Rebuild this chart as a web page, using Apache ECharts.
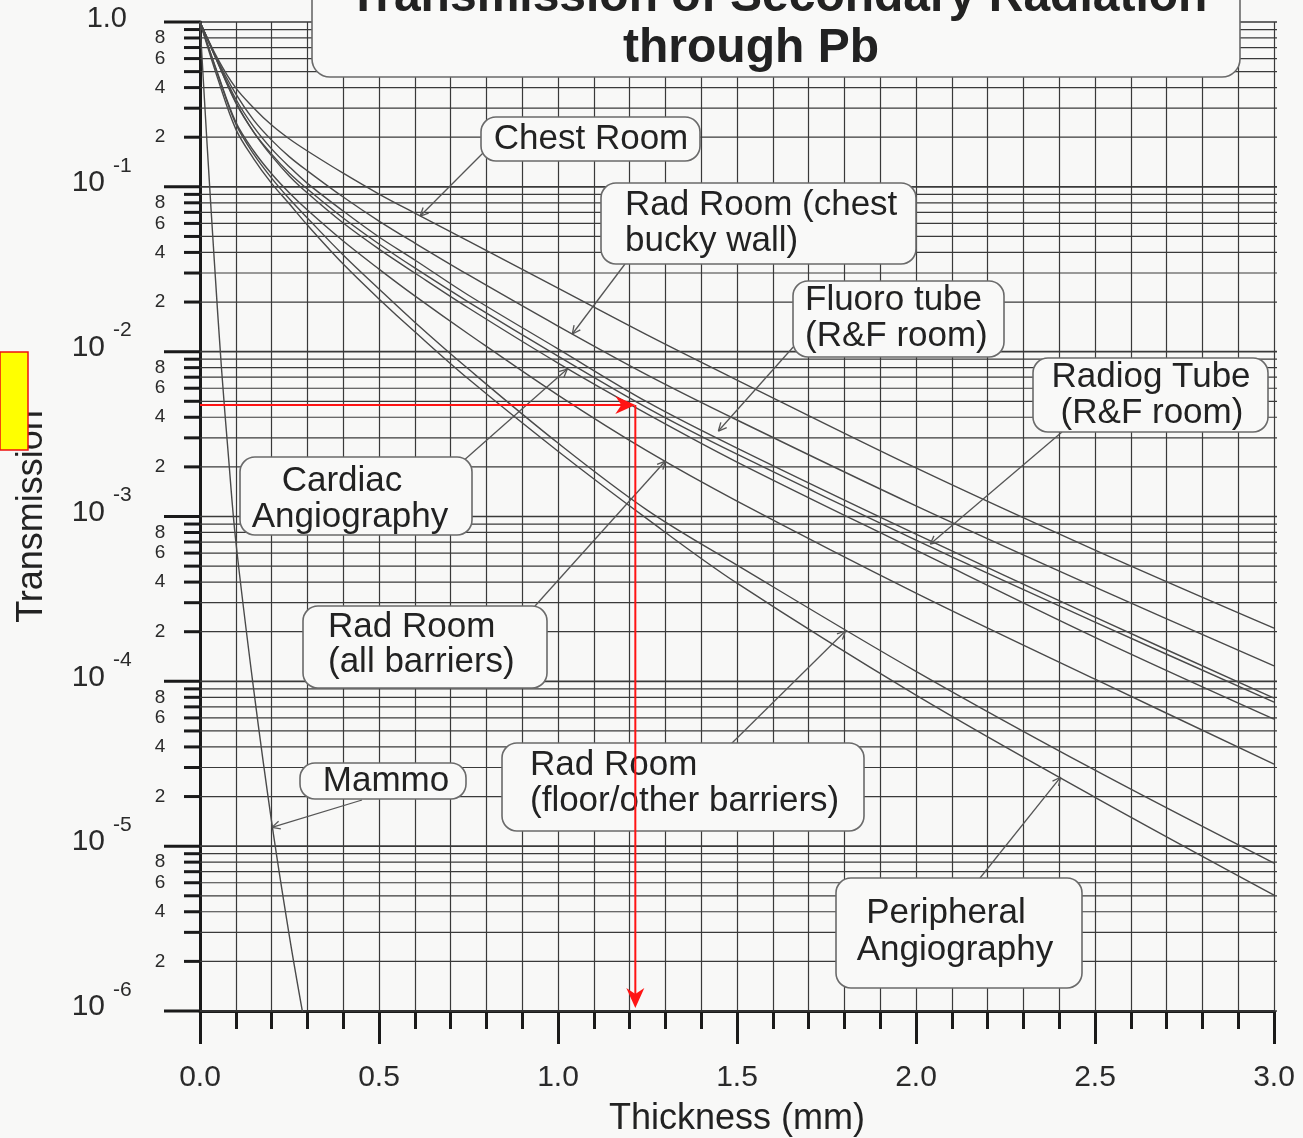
<!DOCTYPE html>
<html><head><meta charset="utf-8">
<script src="https://cdn.jsdelivr.net/npm/echarts@6/dist/echarts.min.js"></script>
<style>html,body{margin:0;padding:0;background:#f8f8f7;}#chart{width:1303px;height:1138px;}</style>
</head><body><div id="chart"></div>
<script>
// ---- data (thickness in mm, transmission) ----
const thickness = [0, 0.05, 0.1, 0.15, 0.2, 0.25, 0.3, 0.4, 0.5, 0.6, 0.75, 1.0, 1.25, 1.5, 2.0, 2.5, 3.0];
const chestRoom       = [1, 0.596, 0.398, 0.301, 0.237, 0.195, 0.165, 0.121, 0.0904, 0.0693, 0.0469, 0.0243, 0.0126, 0.00673, 0.00197, 0.000625, 0.000210];
const radChestBucky   = [1, 0.580, 0.366, 0.254, 0.192, 0.152, 0.125, 0.0867, 0.0620, 0.0456, 0.0292, 0.0143, 0.00721, 0.00385, 0.00116, 0.000373, 0.000124];
const fluoroTube      = [1, 0.572, 0.341, 0.231, 0.170, 0.132, 0.105, 0.0713, 0.0496, 0.0360, 0.0220, 0.0104, 0.00494, 0.00260, 0.000782, 0.000245, 0.0000791];
const radiogTube      = [1, 0.564, 0.323, 0.215, 0.158, 0.121, 0.0970, 0.0647, 0.0450, 0.0322, 0.0200, 0.00940, 0.00455, 0.00239, 0.000719, 0.000229, 0.0000748];
const cardiacAngio    = [1, 0.564, 0.327, 0.215, 0.154, 0.116, 0.0917, 0.0603, 0.0419, 0.0300, 0.0184, 0.00853, 0.00418, 0.00214, 0.000625, 0.000185, 0.0000590];
const radAllBarriers  = [1, 0.484, 0.247, 0.165, 0.120, 0.0917, 0.0723, 0.0469, 0.0317, 0.0218, 0.0128, 0.00545, 0.00249, 0.00124, 0.000343, 0.000103, 0.0000315];
const radFloorOther   = [1, 0.477, 0.241, 0.158, 0.113, 0.0843, 0.0647, 0.0386, 0.0240, 0.0151, 0.00784, 0.00279, 0.00109, 0.000507, 0.000115, 0.0000289, 0.00000789];
const peripheralAngio = [1, 0.451, 0.224, 0.148, 0.105, 0.0786, 0.0586, 0.0340, 0.0209, 0.0132, 0.00682, 0.00249, 0.000964, 0.000394, 0.0000825, 0.0000198, 0.00000505];
const mammoThickness  = [0, 0.02, 0.04, 0.06, 0.08, 0.1, 0.15, 0.2, 0.25, 0.29];
const mammo           = [1, 0.178, 0.0355, 0.00794, 0.00224, 0.000708, 0.0000891, 0.0000141, 0.00000282, 0.00000089];

// tick labels
const xTickLabels = ['0.0', '0.5', '1.0', '1.5', '2.0', '2.5', '3.0'];
const yMinorLabels = ['', '2', '', '4', '', '6', '', '8', ''];
const yTopLabel = '1.0';
const yDecadeBase = '10';

// example reading shown in red
const exampleThickness = 1.216;
const exampleTransmission = 0.00474;

// ---- presentation ----
const FONT = "'Liberation Sans', Arial, Helvetica, sans-serif";
const INK = '#222';
const GRIDC = '#3a3a3a';
const CURVE = '#4a4a4a';

const chart = echarts.init(document.getElementById('chart'), null, {renderer: 'canvas'});

const yScaleItems = [];
for (let e = -6; e <= 0; e++) {
  for (let m = 1; m <= 9; m++) {
    if (e === 0 && m > 1) break;
    yScaleItems.push([0, m * Math.pow(10, e), m, e]);
  }
}

function renderYScale(params, api) {
  const v = api.value(1), m = api.value(2), e = api.value(3);
  const cs = params.coordSys;
  const y = api.coord([0, v])[1];
  const kids = [];
  kids.push({type: 'line', shape: {x1: cs.x, y1: y, x2: cs.x + cs.width + 3, y2: y},
    style: {stroke: GRIDC, lineWidth: m === 1 ? 1.7 : 1.2}});
  if (m === 1) {
    kids.push({type: 'line', shape: {x1: cs.x - 36, y1: y, x2: cs.x, y2: y}, style: {stroke: '#1a1a1a', lineWidth: 3}});
    if (e === 0) {
      kids.push({type: 'text', x: cs.x - 73, y: y - 3, style: {text: yTopLabel, fontSize: 29, fontFamily: FONT, fill: '#2a2a2a', align: 'right', verticalAlign: 'middle'}});
    } else {
      kids.push({type: 'text', x: cs.x - 95, y: y - 4, style: {text: yDecadeBase, fontSize: 30, fontFamily: FONT, fill: '#2a2a2a', align: 'right', verticalAlign: 'middle'}});
      kids.push({type: 'text', x: cs.x - 87, y: y - 21, style: {text: String(e), fontSize: 21, fontFamily: FONT, fill: '#2a2a2a', align: 'left', verticalAlign: 'middle'}});
    }
  } else {
    kids.push({type: 'line', shape: {x1: cs.x - 16, y1: y, x2: cs.x, y2: y}, style: {stroke: '#1a1a1a', lineWidth: 3}});
    const lbl = yMinorLabels[m - 1];
    if (lbl) kids.push({type: 'text', x: cs.x - 40, y: y, style: {text: lbl, fontSize: 19, fontFamily: FONT, fill: '#2a2a2a', align: 'center', verticalAlign: 'middle'}});
  }
  return {type: 'group', children: kids};
}

function curve(name, xs, ys) {
  return {
    name, type: 'line', data: xs.map((x, i) => [x, ys[i]]),
    showSymbol: false, symbol: 'none', smooth: 0.35, clip: true,
    lineStyle: {color: CURVE, width: 1.4}, z: 3, silent: true
  };
}

chart.setOption({
  animation: false,
  backgroundColor: '#f8f8f7',
  grid: {left: 200, top: 22, width: 1074, height: 989, containLabel: false, outerBoundsMode: 'none'},
  xAxis: {
    type: 'value', min: 0, max: 3, interval: 0.5,
    axisLine: {show: true, onZero: false, lineStyle: {color: '#1a1a1a', width: 3}},
    axisTick: {show: true, length: 33, lineStyle: {color: '#1a1a1a', width: 3}},
    minorTick: {show: true, splitNumber: 5, length: 18, lineStyle: {color: '#1a1a1a', width: 3}},
    splitLine: {show: true, lineStyle: {color: GRIDC, width: 1.2}},
    minorSplitLine: {show: true, lineStyle: {color: GRIDC, width: 1.2}},
    axisLabel: {margin: 52, fontSize: 30, fontFamily: FONT, color: '#2a2a2a',
      formatter: v => xTickLabels[Math.round(v / 0.5)]},
    name: 'Thickness (mm)', nameLocation: 'middle', nameGap: 90,
    nameTextStyle: {fontSize: 36, fontFamily: FONT, color: INK}
  },
  yAxis: {
    type: 'log', logBase: 10, min: 1e-6, max: 1,
    axisLine: {show: true, lineStyle: {color: '#1a1a1a', width: 3}},
    axisTick: {show: false}, axisLabel: {show: false}, splitLine: {show: false},
    name: 'Transmission', nameLocation: 'middle', nameGap: 150, nameRotate: 90,
    nameTextStyle: {fontSize: 36, fontFamily: FONT, color: INK}
  },
  series: [
    {type: 'custom', name: 'yscale', data: yScaleItems, renderItem: renderYScale,
      encode: {x: 0, y: 1}, clip: false, silent: true, z: 1},
    curve('Chest Room', thickness, chestRoom),
    curve('Rad Room (chest bucky wall)', thickness, radChestBucky),
    curve('Fluoro tube (R&F room)', thickness, fluoroTube),
    curve('Radiog Tube (R&F room)', thickness, radiogTube),
    curve('Cardiac Angiography', thickness, cardiacAngio),
    curve('Rad Room (all barriers)', thickness, radAllBarriers),
    curve('Rad Room (floor/other barriers)', thickness, radFloorOther),
    curve('Peripheral Angiography', thickness, peripheralAngio),
    curve('Mammo', mammoThickness, mammo)
  ]
});

// ---- annotations ----
const toPx = (x, t) => chart.convertToPixel({gridIndex: 0}, [x, t]);
const g = [];
function box(x, y, w, h, r) {
  g.push({type: 'rect', shape: {x, y, width: w, height: h, r}, style: {fill: '#f9f9f8', stroke: '#6a6a6a', lineWidth: 1.6}, z: 100});
}
function txt(text, x, y, align, size, weight) {
  g.push({type: 'text', x, y, style: {text, fontSize: size || 35, fontWeight: weight || 'normal', fontFamily: FONT, fill: INK, align: align || 'center', verticalAlign: 'middle'}, z: 101});
}
function leader(sx, sy, tipX, tipT) {
  const p = toPx(tipX, tipT);
  g.push({type: 'line', shape: {x1: sx, y1: sy, x2: p[0], y2: p[1]}, style: {stroke: '#555', lineWidth: 1.3}, z: 99});
  const ang = Math.atan2(sy - p[1], sx - p[0]);
  [0.45, -0.45].forEach(d => {
    g.push({type: 'line', shape: {x1: p[0], y1: p[1], x2: p[0] + 9 * Math.cos(ang + d), y2: p[1] + 9 * Math.sin(ang + d)}, style: {stroke: '#555', lineWidth: 1.3}, z: 99});
  });
}

// leaders (start at label box, tip on curve in data coordinates)
leader(484, 152, 0.615, 0.0665);
leader(625, 264, 1.040, 0.0128);
leader(795, 345, 1.448, 0.0033);
leader(1062, 432, 2.040, 0.00068);
leader(462, 462, 1.026, 0.00784);
leader(535, 606, 1.300, 0.00217);
leader(362, 800, 0.201, 0.000013);
leader(730, 745, 1.803, 0.000202);
leader(980, 878, 2.404, 0.0000262);

// title
box(312, -40, 928, 117, 18);
txt('Transmission of Secondary Radiation', 778, -2, 'center', 48, 'bold');
txt('through Pb', 751, 49, 'center', 48, 'bold');

// label boxes
box(481, 117, 219, 44, 15); txt('Chest Room', 591, 139);
box(601, 183, 315, 81, 15); txt('Rad Room (chest', 625, 205, 'left'); txt('bucky wall)', 625, 241, 'left');
box(793, 281, 211, 76, 15); txt('Fluoro tube', 805, 300, 'left'); txt('(R&F room)', 805, 336, 'left');
box(1033, 358, 235, 74, 15); txt('Radiog Tube', 1151, 377); txt('(R&F room)', 1152, 413);
box(240, 457, 232, 78, 15); txt('Cardiac', 342, 481); txt('Angiography', 350, 517);
box(303, 606, 244, 82, 15); txt('Rad Room', 328, 627, 'left'); txt('(all barriers)', 328, 662, 'left');
box(300, 763, 166, 36, 15); txt('Mammo', 386, 781);
box(502, 743, 362, 88, 15); txt('Rad Room', 530, 765, 'left'); txt('(floor/other barriers)', 530, 801, 'left');
box(836, 878, 246, 110, 15); txt('Peripheral', 946, 913); txt('Angiography', 955, 950);

// red example reading
const a = toPx(0, exampleTransmission);
const b = toPx(exampleThickness, exampleTransmission);
const c = toPx(exampleThickness, 1e-6);
const RED = '#ff1414';
g.push({type: 'line', shape: {x1: a[0], y1: a[1], x2: b[0] - 10, y2: b[1]}, style: {stroke: RED, lineWidth: 2}, z: 110});
g.push({type: 'polygon', shape: {points: [[b[0], b[1]], [b[0] - 20, b[1] - 9], [b[0] - 14, b[1]], [b[0] - 20, b[1] + 9]]}, style: {fill: RED}, z: 111});
g.push({type: 'line', shape: {x1: b[0], y1: b[1], x2: c[0], y2: c[1] - 12}, style: {stroke: RED, lineWidth: 2}, z: 110});
const ct = c[1] - 3;
g.push({type: 'polygon', shape: {points: [[c[0], ct], [c[0] - 9, ct - 20], [c[0], ct - 14], [c[0] + 9, ct - 20]]}, style: {fill: RED}, z: 111});

// yellow marker
g.push({type: 'rect', shape: {x: 0, y: 352, width: 28, height: 98}, style: {fill: '#ffff00', stroke: '#ee1111', lineWidth: 1.5}, z: 120});

chart.setOption({graphic: g});
</script>
</body></html>
